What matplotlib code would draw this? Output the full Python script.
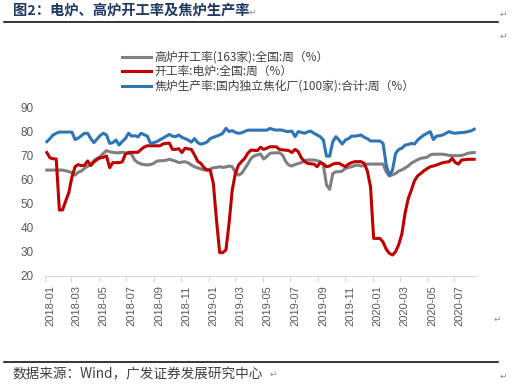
import numpy as np
import pandas as pd
import matplotlib
matplotlib.use("Agg")
import matplotlib.pyplot as plt
import matplotlib.dates as mdates

plt.rcParams['font.family'] = ['Noto Sans CJK SC', 'DejaVu Sans']

# weekly data, first week 2018-01-05
START = "2018-01-05"

blast = [63.9, 63.9, 63.9, 63.9, 63.9, 63.9, 63.6, 63.3, 62.8, 61.8,
         63.0, 63.5, 64.6, 65.5, 66.2, 67.8, 68.8, 69.5, 70.9, 72.0,
         71.5, 71.3, 71.1, 71.1, 71.3, 71.1, 70.9, 70.5, 68.0, 67.0,
         66.4, 66.2, 66.0, 66.2, 66.7, 67.6, 67.8, 67.8, 68.0, 68.4,
         68.0, 67.6, 67.0, 67.2, 67.4, 66.9, 66.0, 65.3, 64.8, 64.4,
         63.9, 64.0, 64.3, 64.9, 65.0, 65.3, 65.0, 65.2, 65.6, 65.3,
         63.0, 61.8, 62.5, 64.5, 66.5, 68.8, 69.8, 70.2, 70.6, 68.5,
         69.5, 70.9, 71.0, 71.1, 71.1, 70.2, 67.5, 66.0, 65.6, 66.2,
         66.6, 67.0, 67.8, 68.1, 68.1, 68.1, 67.8, 67.4, 66.0, 57.7,
         55.9, 62.5, 63.2, 63.2, 63.5, 64.6, 65.0, 65.3, 65.8, 66.0,
         65.6, 65.8, 66.4, 66.4, 66.4, 66.4, 66.4, 66.4, 63.2, 61.4,
         62.0, 62.5, 63.5, 64.0, 64.8, 65.6, 66.8, 67.5, 68.2, 68.8,
         69.0, 69.2, 70.2, 70.5, 70.5, 70.5, 70.5, 70.3, 70.0, 69.9,
         69.9, 69.9, 70.0, 70.4, 70.9, 71.1, 71.2]

eaf = [71.2, 69.0, 68.6, 68.5, 47.3, 47.3, 51.0, 54.5, 61.0, 65.3,
       66.2, 65.7, 65.9, 67.7, 65.8, 67.3, 68.3, 69.0, 69.2, 69.8,
       64.9, 67.0, 67.0, 67.0, 67.3, 70.5, 71.2, 71.3, 71.3, 71.3,
       72.5, 73.5, 74.0, 74.0, 74.0, 74.0, 74.0, 74.8, 75.0, 75.1,
       72.5, 72.5, 72.8, 71.2, 73.0, 72.7, 72.5, 70.2, 67.6, 66.7,
       65.0, 63.9, 63.9, 58.3, 43.1, 29.6, 29.6, 30.7, 41.8, 55.6,
       62.5, 66.0, 67.5, 68.8, 71.0, 72.2, 72.1, 72.0, 73.4, 72.5,
       73.0, 73.6, 73.6, 73.6, 72.5, 72.3, 72.2, 72.0, 71.2, 72.5,
       71.6, 69.0, 67.5, 66.7, 66.5, 66.4, 65.3, 67.0, 66.5, 65.3,
       65.6, 66.4, 66.7, 66.7, 66.0, 65.3, 66.4, 67.0, 67.4, 67.4,
       67.4, 66.7, 63.5, 57.0, 35.5, 35.5, 35.5, 34.0, 31.0, 29.3,
       28.6, 30.0, 33.0, 37.5, 46.0, 52.0, 55.6, 59.5, 61.5, 62.5,
       63.6, 64.5, 65.3, 65.6, 66.0, 66.5, 67.0, 67.2, 67.4, 68.8,
       67.0, 66.4, 68.1, 68.2, 68.4, 68.4, 68.4]

coke = [75.7, 77.0, 78.5, 79.2, 79.7, 79.7, 79.7, 79.7, 79.7, 76.6,
        77.2, 78.2, 79.2, 79.2, 77.0, 75.3, 76.8, 78.3, 79.2, 78.5,
        75.0, 75.3, 76.4, 74.3, 75.8, 77.0, 79.2, 78.0, 78.2, 77.7,
        79.2, 78.6, 78.0, 75.0, 75.3, 75.7, 76.5, 77.2, 78.0, 78.7,
        78.0, 77.8, 78.5, 77.5, 77.0, 76.4, 75.5, 77.0, 75.3, 74.7,
        75.0, 75.6, 77.0, 77.5, 78.0, 78.5, 79.2, 81.3, 79.9, 80.3,
        79.6, 79.2, 79.4, 80.0, 80.5, 80.5, 80.5, 80.5, 80.5, 80.5,
        80.5, 81.2, 80.8, 80.5, 80.6, 80.5, 80.0, 79.9, 80.1, 77.8,
        79.9, 79.6, 79.2, 79.8, 80.1, 79.2, 78.5, 77.8, 76.4, 69.7,
        69.7, 75.7, 77.8, 76.4, 74.7, 76.4, 77.0, 78.0, 78.0, 78.2,
        78.5, 77.5, 77.0, 76.0, 76.0, 76.0, 76.0, 75.0, 66.0, 61.8,
        63.9, 70.9, 72.5, 73.0, 74.3, 74.5, 75.0, 74.7, 76.4, 77.5,
        78.5, 79.2, 79.9, 76.6, 78.0, 78.2, 78.5, 79.2, 79.9, 79.4,
        79.2, 79.4, 79.5, 79.6, 79.9, 80.2, 80.9]

labels = ["高炉开工率(163家):全国:周（%）",
          "开工率:电炉:全国:周（%）",
          "焦炉生产率:国内独立焦化厂(100家):合计:周（%）"]
colors = ["#7f7f7f", "#c00000", "#2e75b6"]

dates = pd.date_range(START, periods=len(blast), freq="7D")

fig = plt.figure(figsize=(5.12, 3.85), dpi=100, facecolor="white")
ax = fig.add_axes([0.0879, 0.2839, 0.8418, 0.4374])

handles = []
for vals, lab, col in zip([blast, eaf, coke], labels, colors):
    h, = ax.plot(dates, vals, color=col, lw=2.2, label=lab)
    handles.append(h)

ax.set_ylim(20, 90)
ax.set_yticks(range(20, 91, 10))
ax.set_xlim(pd.Timestamp("2018-01-01"), pd.Timestamp("2020-08-18"))
ax.xaxis.set_major_locator(mdates.MonthLocator(bymonth=[1, 3, 5, 7, 9, 11]))
ax.xaxis.set_major_formatter(mdates.DateFormatter("%Y-%m"))
for t in ax.get_xticklabels():
    t.set_rotation(90)
    t.set_ha("left")
    t.set_family("Liberation Sans")
    t.set_fontsize(8)
    t.set_color("#595959")
for t in ax.get_yticklabels():
    t.set_family("Liberation Sans")
    t.set_fontsize(8.5)
    t.set_color("#595959")

for s in ("top", "right", "left"):
    ax.spines[s].set_visible(False)
ax.spines["bottom"].set_color("#d9d9d9")
ax.tick_params(axis="y", length=0, pad=8)
ax.tick_params(axis="x", length=4, color="#d9d9d9", pad=3)

fig.legend(handles=handles, loc="upper left", bbox_to_anchor=(0.23, 0.88),
           frameon=False, fontsize=8.5, handlelength=2.4, labelspacing=0.12,
           handletextpad=0.3, labelcolor="#404040", borderaxespad=0)

# header / footer like the report page
fig.text(0.025, 0.972, "图2：电炉、高炉开工率及焦炉生产率", fontsize=10.3,
         fontweight="bold", color="#1f3864", va="center")
fig.add_artist(plt.Line2D([0.008, 0.973], [0.944, 0.944], color="black", lw=1.1))
fig.text(0.025, 0.028, "数据来源：Wind，广发证券发展研究中心", fontsize=9.8,
         color="#404040", va="center")
fig.add_artist(plt.Line2D([0.008, 0.973], [0.060, 0.060], color="black", lw=1.1))
for x, y in [(0.486, 0.968), (0.975, 0.962), (0.975, 0.905), (0.965, 0.17),
             (0.527, 0.028), (0.975, 0.022)]:
    fig.text(x, y, "↵", fontsize=6.5, color="#8c8c8c", va="center",
             family="DejaVu Sans")

fig.savefig("out.png", dpi=100, facecolor="white")
